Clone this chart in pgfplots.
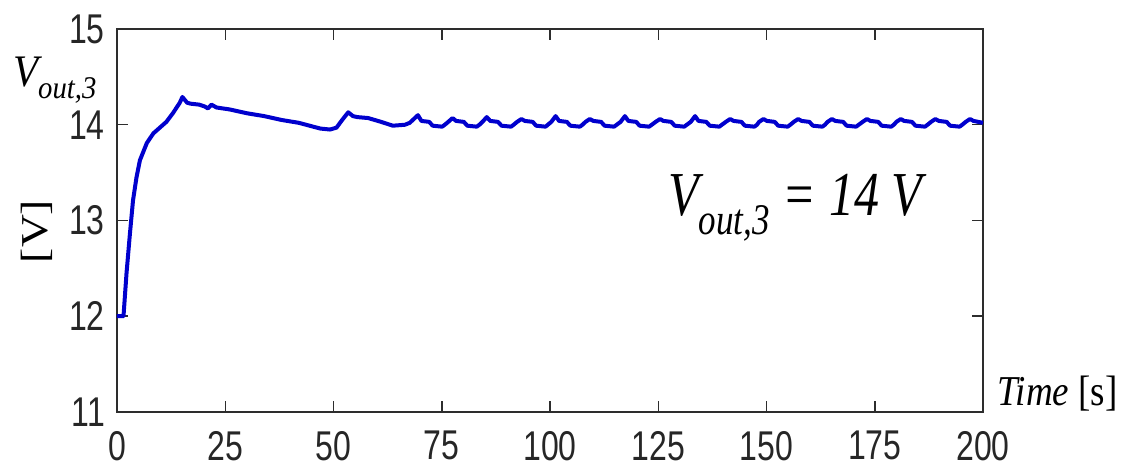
\documentclass[border=0pt]{standalone}
\usepackage{fontspec}
\setmainfont{Liberation Serif}
\newfontfamily\arialf{Liberation Sans}
\usepackage{graphicx}
\usepackage{pgfplots}
\pgfplotsset{compat=1.18}
\definecolor{curve}{RGB}{0,0,205}
\definecolor{axgray}{RGB}{45,45,45}

\begin{document}
\begin{tikzpicture}
\begin{axis}[
  scale only axis,
  width=866bp, height=383bp,
  xmin=0, xmax=200, ymin=11, ymax=15,
  xtick={0,25,...,200}, ytick={11,12,13,14,15},
  tick align=inside,
  major tick length=11bp,
  axis line style={axgray, line width=1.8bp},
  tick style={axgray, line width=1.5bp},
  /pgf/number format/assume math mode=true,
  tick label style={font=\arialf\fontsize{32bp}{32bp}\selectfont, text=black!85, inner sep=0pt},
  xticklabel style={anchor=north, yshift=-19bp},
  yticklabel style={anchor=east, xshift=-12bp},
  xticklabel={\scalebox{1}[1.3]{\pgfmathprintnumber{\tick}}},
  yticklabel={\scalebox{1}[1.3]{\pgfmathprintnumber{\tick}}},
  clip=false,
]
% output voltage of converter 3
\addplot[curve, line width=4bp, line join=round] coordinates {
(0,12.0)(1.5,12.0)(2.2,12.45)(3.0,12.87)(3.7,13.21)(4.5,13.45)(5.3,13.63)(6.9,13.81)
(8.4,13.91)(9.9,13.97)(11.4,14.03)(12.9,14.12)(14.5,14.23)(15.1,14.29)(16.2,14.23)
(17.0,14.22)(19.0,14.21)(20.3,14.19)(21.0,14.17)(21.8,14.21)(23.0,14.18)(26,14.16)
(30,14.12)(34,14.09)(38,14.05)(42,14.02)(45.3,13.98)(47,13.96)(49.2,13.95)(50.7,13.97)
(52,14.05)(53.4,14.13)(54.5,14.09)(55.5,14.08)(58,14.07)(61,14.03)(63.7,13.99)
(66.5,14.0)(67.6,14.02)
(69.5,14.10)(70.3,14.04)(72.1,14.03)(72.9,13.99)(75.1,13.98)(75.7,14.00)
(76.5,14.03)(77.5,14.07)(78.3,14.04)(80.1,14.03)(80.9,13.99)(83.1,13.98)(83.7,14.0)
(84.4,14.03)(85.4,14.08)(86.2,14.04)(88.0,14.03)(88.8,13.99)(91.0,13.98)(91.6,14.0)
(92.4,14.03)(93.4,14.06)(94.2,14.04)(96.0,14.03)(96.8,13.99)(99.0,13.98)(99.5,14.0)
(100.3,14.03)(101.3,14.09)(102.1,14.04)(103.9,14.03)(104.7,13.99)(106.9,13.98)(107.5,14.0)
(108.2,14.03)(109.2,14.06)(110.0,14.04)(111.8,14.03)(112.6,13.99)(114.8,13.98)(115.4,14.0)
(116.3,14.03)(117.3,14.09)(118.1,14.04)(119.9,14.03)(120.7,13.99)(122.9,13.98)(123.5,14.0)
(124.4,14.03)(125.4,14.06)(126.2,14.04)(128.0,14.03)(128.8,13.99)(131.0,13.98)(131.6,14.0)
(132.5,14.03)(133.5,14.09)(134.3,14.04)(136.1,14.03)(136.9,13.99)(139.1,13.98)(139.7,14.0)
(140.6,14.03)(141.6,14.06)(142.4,14.04)(144.2,14.03)(145.0,13.99)(147.2,13.98)(147.8,14.0)
(148.3,14.03)(149.3,14.06)(150.1,14.04)(151.9,14.03)(152.7,13.99)(154.9,13.98)(155.5,14.0)
(156.3,14.03)(157.3,14.06)(158.1,14.04)(159.9,14.03)(160.7,13.99)(162.9,13.98)(163.5,14.0)
(164.1,14.03)(165.1,14.06)(165.9,14.04)(167.7,14.03)(168.5,13.99)(170.7,13.98)(171.3,14.0)
(172.2,14.03)(173.2,14.06)(174.0,14.04)(175.8,14.03)(176.6,13.99)(178.8,13.98)(179.4,14.0)
(180.0,14.03)(181.0,14.06)(181.8,14.04)(183.6,14.03)(184.4,13.99)(186.6,13.98)(187.2,14.0)
(188.0,14.03)(189.0,14.06)(189.8,14.04)(191.6,14.03)(192.4,13.99)(194.6,13.98)(195.2,14.0)
(196.0,14.03)(197.0,14.06)(197.8,14.04)(200,14.02)
};
\node[anchor=base west, inner sep=0pt, font=\fontsize{50bp}{50bp}\selectfont\itshape]
  at (axis cs:127.3,13.05) {\scalebox{1}[1.25]{V\textsubscript{out,3} = 14 V}};
\node[anchor=base west, inner sep=0pt, xshift=-104bp, yshift=-58bp,
  font=\fontsize{41bp}{41bp}\selectfont\itshape]
  at (rel axis cs:0,1) {\scalebox{1}[1.1]{V\textsubscript{out,3}}};
\node[inner sep=0pt, xshift=-80bp, yshift=-11bp, rotate=90,
  font=\fontsize{38bp}{38bp}\selectfont]
  at (rel axis cs:0,0.5) {\scalebox{1.2}[1]{[V]}};
\node[anchor=base west, inner sep=0pt, xshift=14bp, yshift=7bp,
  font=\fontsize{37bp}{37bp}\selectfont]
  at (rel axis cs:1,0) {\scalebox{1}[1.15]{\textit{Time} [s]}};
\end{axis}
\path (current axis.south west) ++(-117bp,-55bp) rectangle ++(1121bp,467bp);
\end{tikzpicture}
\end{document}
